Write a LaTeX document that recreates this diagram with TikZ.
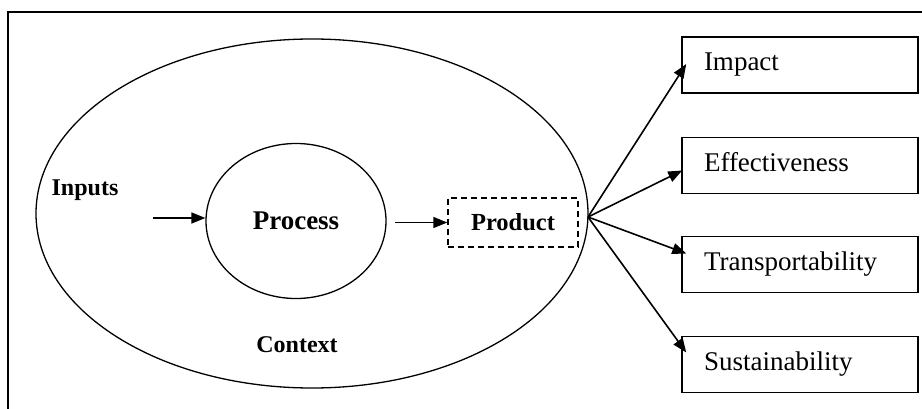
\documentclass[tikz,border=0pt]{standalone}
\usepackage{fontspec}
\setmainfont{Liberation Serif}
\usetikzlibrary{arrows.meta,shapes.geometric,calc}
\tikzset{
  line/.style={line width=1.3pt},
  arr/.style={line width=1.6pt,-{Triangle[length=14pt,width=11pt]}},
  boldlab/.style={font=\fontsize{24}{28}\selectfont\bfseries,inner sep=0pt},
  outbox/.style={draw,line width=1.5pt,rectangle,minimum width=236pt,minimum height=56pt,
    text width=192pt,inner xsep=22pt,align=left,text height=18pt,text depth=6pt,
    font=\fontsize{27}{32}\selectfont},
}
\begin{document}
\begin{tikzpicture}[x=1pt,y=-1pt]
\useasboundingbox (0,0) rectangle (922,409);
% frame
\draw[line width=1.8pt] (8,409) -- (8,12) -- (922,12);
% outer ellipse
\node[ellipse,draw,line,minimum width=552pt,minimum height=349pt,inner sep=0pt] (outer) at (312,213.5) {};
% process
\node[ellipse,draw,line,minimum width=180pt,minimum height=155pt,inner sep=0pt,
  font=\fontsize{27}{32}\selectfont\bfseries] (process) at (296,221) {Process};
% product
\node[draw,line width=1.4pt,dash pattern=on 6pt off 4pt,minimum width=130pt,minimum height=49pt,inner sep=0pt,
  font=\fontsize{24.5}{28}\selectfont\bfseries] (product) at (513,222.5) {Product};
% labels
\node[boldlab] (inputs) at (85,190) {Inputs};
\node[boldlab] (context) at (297,345) {Context};
% right boxes
\node[outbox] (impact) at (800,65) {Impact};
\node[outbox] (eff) at (800,165.5) {Effectiveness};
\node[outbox] (trans) at (800,264.5) {Transportability};
\node[outbox] (sust) at (800,364.5) {Sustainability};
% connectors
\coordinate (in1) at (153,218);
\coordinate (pin) at (395,222.5);
\coordinate (fan) at (588,217);
\draw[arr] (in1) -- (process.west |- in1);
\draw[arr] (pin) -- (product.west);
\draw[arr] (fan) -- ([xshift=5pt,yshift=1pt]impact.west);
\draw[arr] (fan) -- ([xshift=1pt,yshift=-5pt]eff.west);
\draw[arr] (fan) -- ([xshift=5pt,yshift=11pt]trans.west);
\draw[arr] (fan) -- ([xshift=5pt,yshift=12pt]sust.west);
\end{tikzpicture}
\end{document}
